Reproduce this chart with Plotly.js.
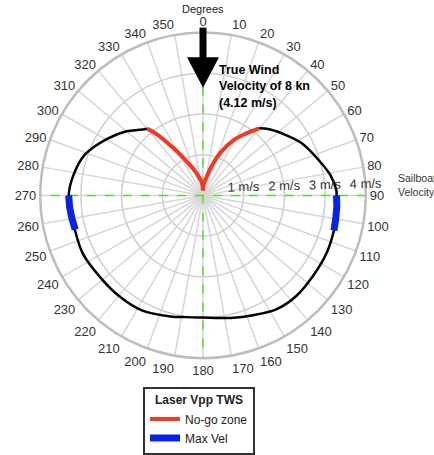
<!DOCTYPE html>
<html>
<head>
<meta charset="utf-8">
<script src="https://cdn.plot.ly/plotly-3.0.1.min.js"></script>
<style>html,body{margin:0;padding:0;background:#fff;}#chart{width:434px;height:455px;}</style>
</head>
<body>
<div id="chart"></div>
<script>
// Boat speed polar (m/s) vs true wind angle (deg)
const nogoRightTheta = [1, 3, 6, 9, 12, 16, 22, 29, 35, 40];
const nogoRightR     = [0.12, 0.25, 0.33, 0.38, 0.5, 0.72, 1.12, 1.55, 1.86, 2.15];
const nogoLeftTheta  = [359, 357, 354, 350, 343, 336, 328, 323, 320];
const nogoLeftR      = [0.12, 0.25, 0.33, 0.4, 0.6, 0.85, 1.37, 1.88, 2.14];
const polarTheta = [40, 45, 52, 62, 73, 81, 88, 90, 100, 105, 115, 126, 137, 147, 158, 166, 172, 180,
                    188, 195, 208, 220, 232, 244, 255, 262, 270, 279, 289, 301, 310, 316, 320];
const polarR     = [2.15, 2.3, 2.47, 2.74, 2.97, 3.17, 3.28, 3.28, 3.31, 3.33, 3.35, 3.35, 3.37, 3.33, 3.18, 3.1, 3.04, 3.0,
                    3.02, 3.08, 3.2, 3.22, 3.23, 3.28, 3.26, 3.28, 3.3, 3.22, 3.07, 2.72, 2.45, 2.24, 2.14];
const maxVelRightTheta = [90, 95, 100, 105];
const maxVelRightR     = [3.28, 3.3, 3.31, 3.33];
const maxVelLeftTheta  = [255, 260, 265, 270];
const maxVelLeftR      = [3.25, 3.27, 3.29, 3.3];
const radialTicks = [1, 2, 3, 4];
const angleTicks = [0,10,20,30,40,50,60,70,80,90,100,110,120,130,140,150,160,170,180,190,200,210,220,230,240,250,260,270,280,290,300,310,320,330,340,350];
const axisTheta = [0, 180, 90, 270];
const axisR = 4;

const W = 434, H = 455;
const px = x => x / W, py = y => (H - y) / H;
const cx = 203, cy = 198, R = 165;

const font = "Liberation Sans, Arial, Helvetica, sans-serif";

const traces = [
  {type:'scatterpolar', mode:'lines', r:[axisR, axisR], theta:[axisTheta[0], axisTheta[1]],
   line:{color:'#55dd33', width:1.5, dash:'dash'}, showlegend:false, hoverinfo:'skip'},
  {type:'scatterpolar', mode:'lines', r:[axisR, axisR], theta:[axisTheta[2], axisTheta[3]],
   line:{color:'#55dd33', width:1.5, dash:'dash'}, showlegend:false, hoverinfo:'skip'},
  {type:'scatterpolar', mode:'lines', r:polarR, theta:polarTheta,
   line:{color:'#000000', width:2.5, shape:'spline'}, showlegend:false},
  {type:'scatterpolar', mode:'lines', r:nogoRightR, theta:nogoRightTheta, name:'No-go zone',
   line:{color:'#f03a25', width:4, shape:'spline'}, legendgroup:'ng'},
  {type:'scatterpolar', mode:'lines', r:nogoLeftR, theta:nogoLeftTheta, name:'No-go zone',
   line:{color:'#f03a25', width:4, shape:'spline'}, legendgroup:'ng', showlegend:false},
  {type:'scatterpolar', mode:'lines', r:maxVelRightR, theta:maxVelRightTheta, name:'Max Vel',
   line:{color:'#0a22e6', width:7}, legendgroup:'mv'},
  {type:'scatterpolar', mode:'lines', r:maxVelLeftR, theta:maxVelLeftTheta, name:'Max Vel',
   line:{color:'#0a22e6', width:7}, legendgroup:'mv', showlegend:false}
];

const layout = {
  width: W, height: H,
  margin:{l:0, r:0, t:0, b:0},
  paper_bgcolor:'#ffffff',
  font:{family:font, color:'#333333', size:13},
  showlegend:true,
  polar:{
    domain:{x:[px(cx-R), px(cx+R)], y:[py(cy+R), py(cy-R)]},
    bgcolor:'#ffffff',
    angularaxis:{
      rotation:90, direction:'clockwise',
      tickmode:'array', tickvals:angleTicks, ticktext:angleTicks.map(String),
      ticks:'', showline:true, linecolor:'#bdbdbd', linewidth:2.5,
      gridcolor:'#d6d6d6', gridwidth:1.5,
      tickfont:{size:13, color:'#333333', family:font}
    },
    radialaxis:{
      range:[0, 4], tickmode:'array', tickvals:radialTicks, ticktext:radialTicks.map(v => v + ' m/s'),
      angle:1.5, side:'counterclockwise', showline:false, ticks:'',
      gridcolor:'#cfcfcf', gridwidth:1.5,
      tickfont:{size:13, color:'#333333', family:font}
    }
  },
  legend:{
    x: px(143), y: py(392), xanchor:'left', yanchor:'top',
    bgcolor:'#ffffff', bordercolor:'#333333', borderwidth:2,
    font:{size:12, color:'#222222', family:font},
    title:{text:'<b>Laser Vpp TWS</b>', side:'top center', font:{size:12, color:'#222222', family:font}},
    tracegroupgap:0, itemwidth:30
  },
  shapes:[
    {type:'rect', xref:'paper', yref:'paper', x0:px(199.5), x1:px(206.5), y0:py(59), y1:py(28),
     fillcolor:'#000000', line:{width:0}},
    {type:'path', xref:'paper', yref:'paper',
     path:`M ${px(187)} ${py(58)} L ${px(219)} ${py(58)} L ${px(203)} ${py(89)} Z`,
     fillcolor:'#000000', line:{width:0}},
    {type:'line', xref:'paper', yref:'paper', x0:px(144), x1:px(255), y0:py(413), y1:py(413),
     line:{color:'#333333', width:2}}
  ],
  annotations:[
    {xref:'paper', yref:'paper', x:px(203), y:py(9), text:'Degrees', showarrow:false,
     xanchor:'center', yanchor:'middle', font:{size:11, color:'#222222', family:font}},
    {xref:'paper', yref:'paper', x:px(217), y:py(62), text:'<b>True Wind<br>Velocity of 8 kn<br>(4.12 m/s)</b>',
     showarrow:false, xanchor:'left', yanchor:'top', align:'left',
     font:{size:12.5, color:'#000000', family:font}},
    {xref:'paper', yref:'paper', x:px(396), y:py(187), text:'Sailboat<br>Velocity', showarrow:false,
     xanchor:'left', yanchor:'middle', align:'left', font:{size:10.5, color:'#333333', family:font}}
  ]
};

Plotly.newPlot('chart', traces, layout, {displayModeBar:false, staticPlot:true});
</script>
</body>
</html>
